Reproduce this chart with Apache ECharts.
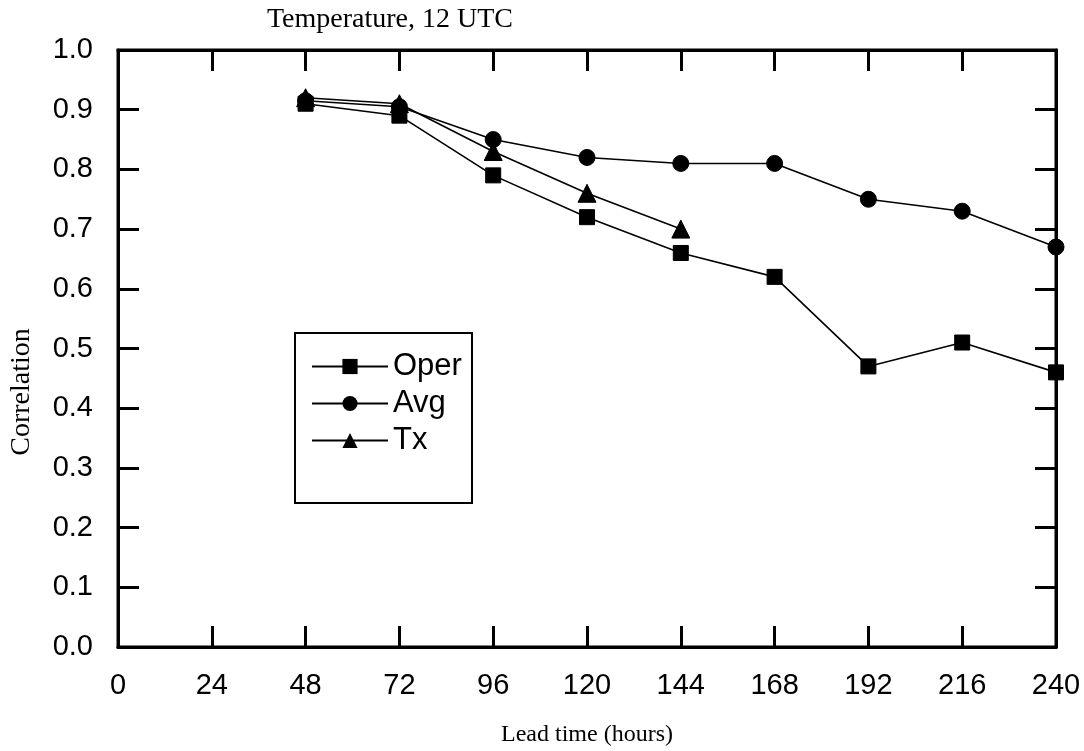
<!DOCTYPE html>
<html>
<head>
<meta charset="utf-8">
<script src="https://cdn.jsdelivr.net/npm/echarts@6/dist/echarts.min.js"></script>
<style>
  html, body { margin: 0; padding: 0; background: #fff; }
  #chart { width: 1084px; height: 751px; }
</style>
</head>
<body>
<div id="chart"></div>
<script>
// Lead times (hours) and correlation scores per forecast
const leadHours = [48, 72, 96, 120, 144, 168, 192, 216, 240];
const operValues = [0.91, 0.89, 0.79, 0.72, 0.66, 0.62, 0.47, 0.51, 0.46];
const avgValues = [0.915, 0.905, 0.85, 0.82, 0.81, 0.81, 0.75, 0.73, 0.67];
const txHours = [48, 72, 96, 120, 144];
const txValues = [0.92, 0.91, 0.83, 0.76, 0.70];

const xTicks = [0, 24, 48, 72, 96, 120, 144, 168, 192, 216, 240];
const yTicks = [0.0, 0.1, 0.2, 0.3, 0.4, 0.5, 0.6, 0.7, 0.8, 0.9, 1.0];

const titleText = 'Temperature, 12 UTC';
const xName = 'Lead time (hours)';
const yName = 'Correlation';

const pairs = (xs, ys) => xs.map((x, i) => [x, ys[i]]);

const sansFont = '"Liberation Sans", Arial, sans-serif';
const serifFont = '"Liberation Serif", "Times New Roman", serif';
const ink = '#000';

const chart = echarts.init(document.getElementById('chart'));

const lineSeries = (name, data, symbol, size) => ({
  name: name,
  type: 'line',
  data: data,
  symbol: symbol,
  symbolSize: size,
  xAxisIndex: 0,
  yAxisIndex: 0,
  lineStyle: { color: ink, width: 1.6 },
  itemStyle: { color: ink, borderColor: ink },
  emphasis: { disabled: true },
  animation: false,
  z: 5
});

// Frame axes: ticks point into the plot on all four sides
const frameLine = { show: true, onZero: false, lineStyle: { color: ink, width: 3 } };
const frameTick = { show: true, inside: true, length: 21, lineStyle: { color: ink, width: 3 } };

chart.setOption({
  animation: false,
  backgroundColor: '#fff',
  title: {
    text: titleText,
    left: 385,
    top: 1,
    textAlign: 'center',
    textStyle: { fontFamily: serifFont, fontSize: 28, fontWeight: 'normal', color: ink }
  },
  grid: {
    left: 118, right: 28, top: 50, bottom: 104,
    outerBoundsMode: 'none',
    show: true, borderColor: ink, borderWidth: 3
  },
  legend: {
    orient: 'vertical',
    left: 306,
    top: 346,
    z: 20,
    itemWidth: 76,
    itemHeight: 19,
    itemGap: 6,
    textStyle: { fontFamily: sansFont, fontSize: 31, color: ink, padding: [0, 0, 0, 0] },
    data: ['Oper', 'Avg', 'Tx']
  },
  graphic: [{
    type: 'rect',
    shape: { x: 295, y: 333, width: 177, height: 170 },
    style: { fill: '#fff', stroke: ink, lineWidth: 2 },
    z: 1
  }, {
    // rotated y-axis title
    type: 'text',
    x: 22,
    y: 392,
    rotation: Math.PI / 2,
    style: {
      text: yName,
      fontFamily: serifFont,
      fontSize: 28,
      fill: ink,
      align: 'center',
      verticalAlign: 'middle'
    },
    z: 5
  }],
  xAxis: [{
    type: 'value',
    min: 0, max: 240, interval: 24,
    name: xName,
    nameLocation: 'middle',
    nameGap: 76,
    nameTextStyle: { fontFamily: serifFont, fontSize: 24, color: ink },
    axisLine: frameLine,
    axisTick: frameTick,
    axisLabel: {
      show: true, margin: 24,
      fontFamily: sansFont, fontSize: 29, color: ink,
      formatter: v => xTicks.includes(v) ? String(v) : ''
    },
    splitLine: { show: false }
  }, {
    type: 'value',
    position: 'top',
    min: 0, max: 240, interval: 24,
    axisLine: frameLine,
    axisTick: frameTick,
    axisLabel: { show: false },
    splitLine: { show: false }
  }],
  yAxis: [{
    type: 'value',
    min: 0, max: 1, interval: 0.1,
    axisLine: frameLine,
    axisTick: frameTick,
    axisLabel: {
      show: true, margin: 25,
      fontFamily: sansFont, fontSize: 29, color: ink,
      formatter: v => {
        const t = yTicks.find(y => Math.abs(y - v) < 1e-6);
        return t === undefined ? '' : t.toFixed(1);
      }
    },
    splitLine: { show: false }
  }, {
    type: 'value',
    position: 'right',
    min: 0, max: 1, interval: 0.1,
    axisLine: frameLine,
    axisTick: frameTick,
    axisLabel: { show: false },
    splitLine: { show: false }
  }],
  series: [
    lineSeries('Oper', pairs(leadHours, operValues), 'rect', 15),
    lineSeries('Avg', pairs(leadHours, avgValues), 'circle', 16),
    lineSeries('Tx', pairs(txHours, txValues), 'triangle', 18)
  ]
});
</script>
</body>
</html>
